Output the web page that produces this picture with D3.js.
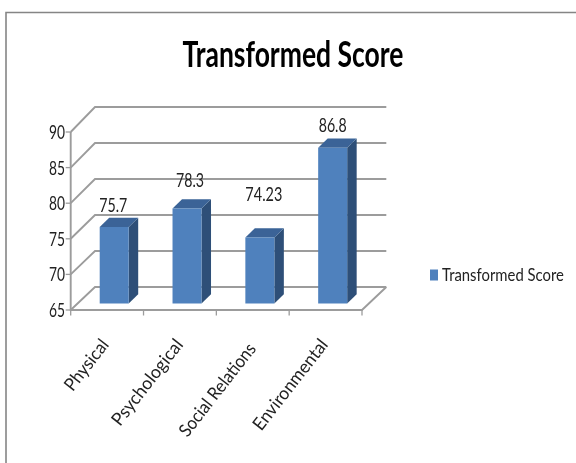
<!DOCTYPE html>
<html><head><meta charset="utf-8">
<script src="https://cdn.jsdelivr.net/npm/d3@7"></script>
<style>html,body{margin:0;padding:0;background:#fff}svg{display:block}text{font-family:Lato,"Liberation Sans",sans-serif;fill:#222}</style>
</head><body><div id="c"></div>
<script>
const categories = ["Physical","Psychological","Social Relations","Environmental"];
const seriesName = "Transformed Score";
const values = [75.7,78.3,74.23,86.8];
const valueLabels = ["75.7","78.3","74.23","86.8"];
const yTicks = [65,70,75,80,85,90];

const W=576,H=463;
const svg=d3.select("#c").append("svg").attr("width",W).attr("height",H);
const defs=svg.append("defs");
defs.append("filter").attr("id","soft").attr("x",0).attr("y",0).attr("width",W).attr("height",H)
  .attr("filterUnits","userSpaceOnUse").append("feGaussianBlur").attr("stdDeviation",0.45);
const g=svg.append("g").attr("filter","url(#soft)");

const x=d3.scaleBand().domain(categories).range([70.7,362]).paddingInner(0).paddingOuter(0);
const yFront=d3.scaleLinear().domain([65,90]).range([310,132]);
const yBack=d3.scaleLinear().domain([65,90]).range([287,107]);
const yBar=d3.scaleLinear().domain([65,90]).range([303.5,125]);
const backDx=24.3, barW=29, barDx=9.5, barDy=9.3, barOff=29;
const line=d3.line();
const grid="#9c9c9c";

// frame
g.append("path").attr("d",line([[6,463],[6,12.5],[576,12.5]])).attr("fill","none").attr("stroke","#858585").attr("stroke-width",1.6);

// walls
yTicks.forEach(t=>{
  g.append("path").attr("fill","none").attr("stroke",grid).attr("stroke-width",1.9)
   .attr("d",line([[x.range()[0],yFront(t)],[x.range()[0]+backDx,yBack(t)],[x.range()[1]+backDx,yBack(t)]]));
  g.append("path").attr("stroke",grid).attr("stroke-width",1.3).attr("d",line([[x.range()[0]-5,yFront(t)],[x.range()[0],yFront(t)]]));
});
g.append("path").attr("fill","none").attr("stroke",grid).attr("stroke-width",1.9)
  .attr("d",line([[x.range()[0],yFront(90)],[x.range()[0],yFront(65)],[x.range()[1],yFront(65)],[x.range()[1]+backDx,yBack(65)]]));
[...categories.map(c=>x(c)),x.range()[1]].forEach(px=>{
  g.append("path").attr("stroke",grid).attr("stroke-width",1.3).attr("d",line([[px,310],[px,315.5]]));
});

// bars
const bars=g.selectAll("g.bar").data(categories.map((c,i)=>({c,v:values[i]}))).join("g");
bars.each(function(d){
  const s=d3.select(this), l=x(d.c)+barOff, r=l+barW, t=yBar(d.v), b=yBar(65);
  s.append("path").attr("fill","#2f5078").attr("d",line([[r,t],[r+barDx,t-barDy],[r+barDx,b-barDy],[r,b]])+"Z");
  s.append("path").attr("fill","#3a6497").attr("d",line([[l,t],[l+barDx,t-barDy],[r+barDx,t-barDy],[r,t]])+"Z");
  s.append("path").attr("fill","#4f81bd").attr("d",line([[l,t],[r,t],[r,b],[l,b]])+"Z");
});

// text squeezed horizontally to a measured width, as in the source picture
function put(str,px,py,opt){
  const t=g.append("text").attr("text-anchor",opt.anchor||"start").attr("font-size",opt.size)
    .attr("font-weight",opt.bold?"bold":"normal").text(str);
  if(opt.fill) t.style("fill",opt.fill);
  const sx=opt.len/t.node().getComputedTextLength();
  t.attr("transform",`translate(${px},${py}) rotate(${opt.rot||0}) scale(${sx},1)`);
  return t;
}

// value labels
const labelLift=[15,22,37,16], labelShift=[-1,3,4,0], labelLen=[28,28,37,28];
valueLabels.forEach((s,i)=>{
  const c=categories[i];
  put(s,x(c)+barOff+barW/2+labelShift[i],yBar(values[i])-labelLift[i],{anchor:"middle",size:19,len:labelLen[i]});
});

// y tick labels
yTicks.forEach(t=>{
  put(String(t),65,yFront(t)+7,{anchor:"end",size:19,len:16});
});

// category labels
const catLen=[60,104,113,110], catShift=[39,40.5,40.6,39.7], catDrop=[345,345,349,345];
categories.forEach((c,i)=>{
  put(c,x(c)+catShift[i],catDrop[i],{anchor:"end",size:18,len:catLen[i],rot:-52});
});

// title
put(seriesName,293,67,{anchor:"middle",size:36,bold:true,len:221,fill:"#000"});

// legend
g.append("rect").attr("x",430).attr("y",269.5).attr("width",8).attr("height",11).attr("fill","#4f81bd");
put(seriesName,442,280.5,{size:18,len:122});
</script></body></html>
